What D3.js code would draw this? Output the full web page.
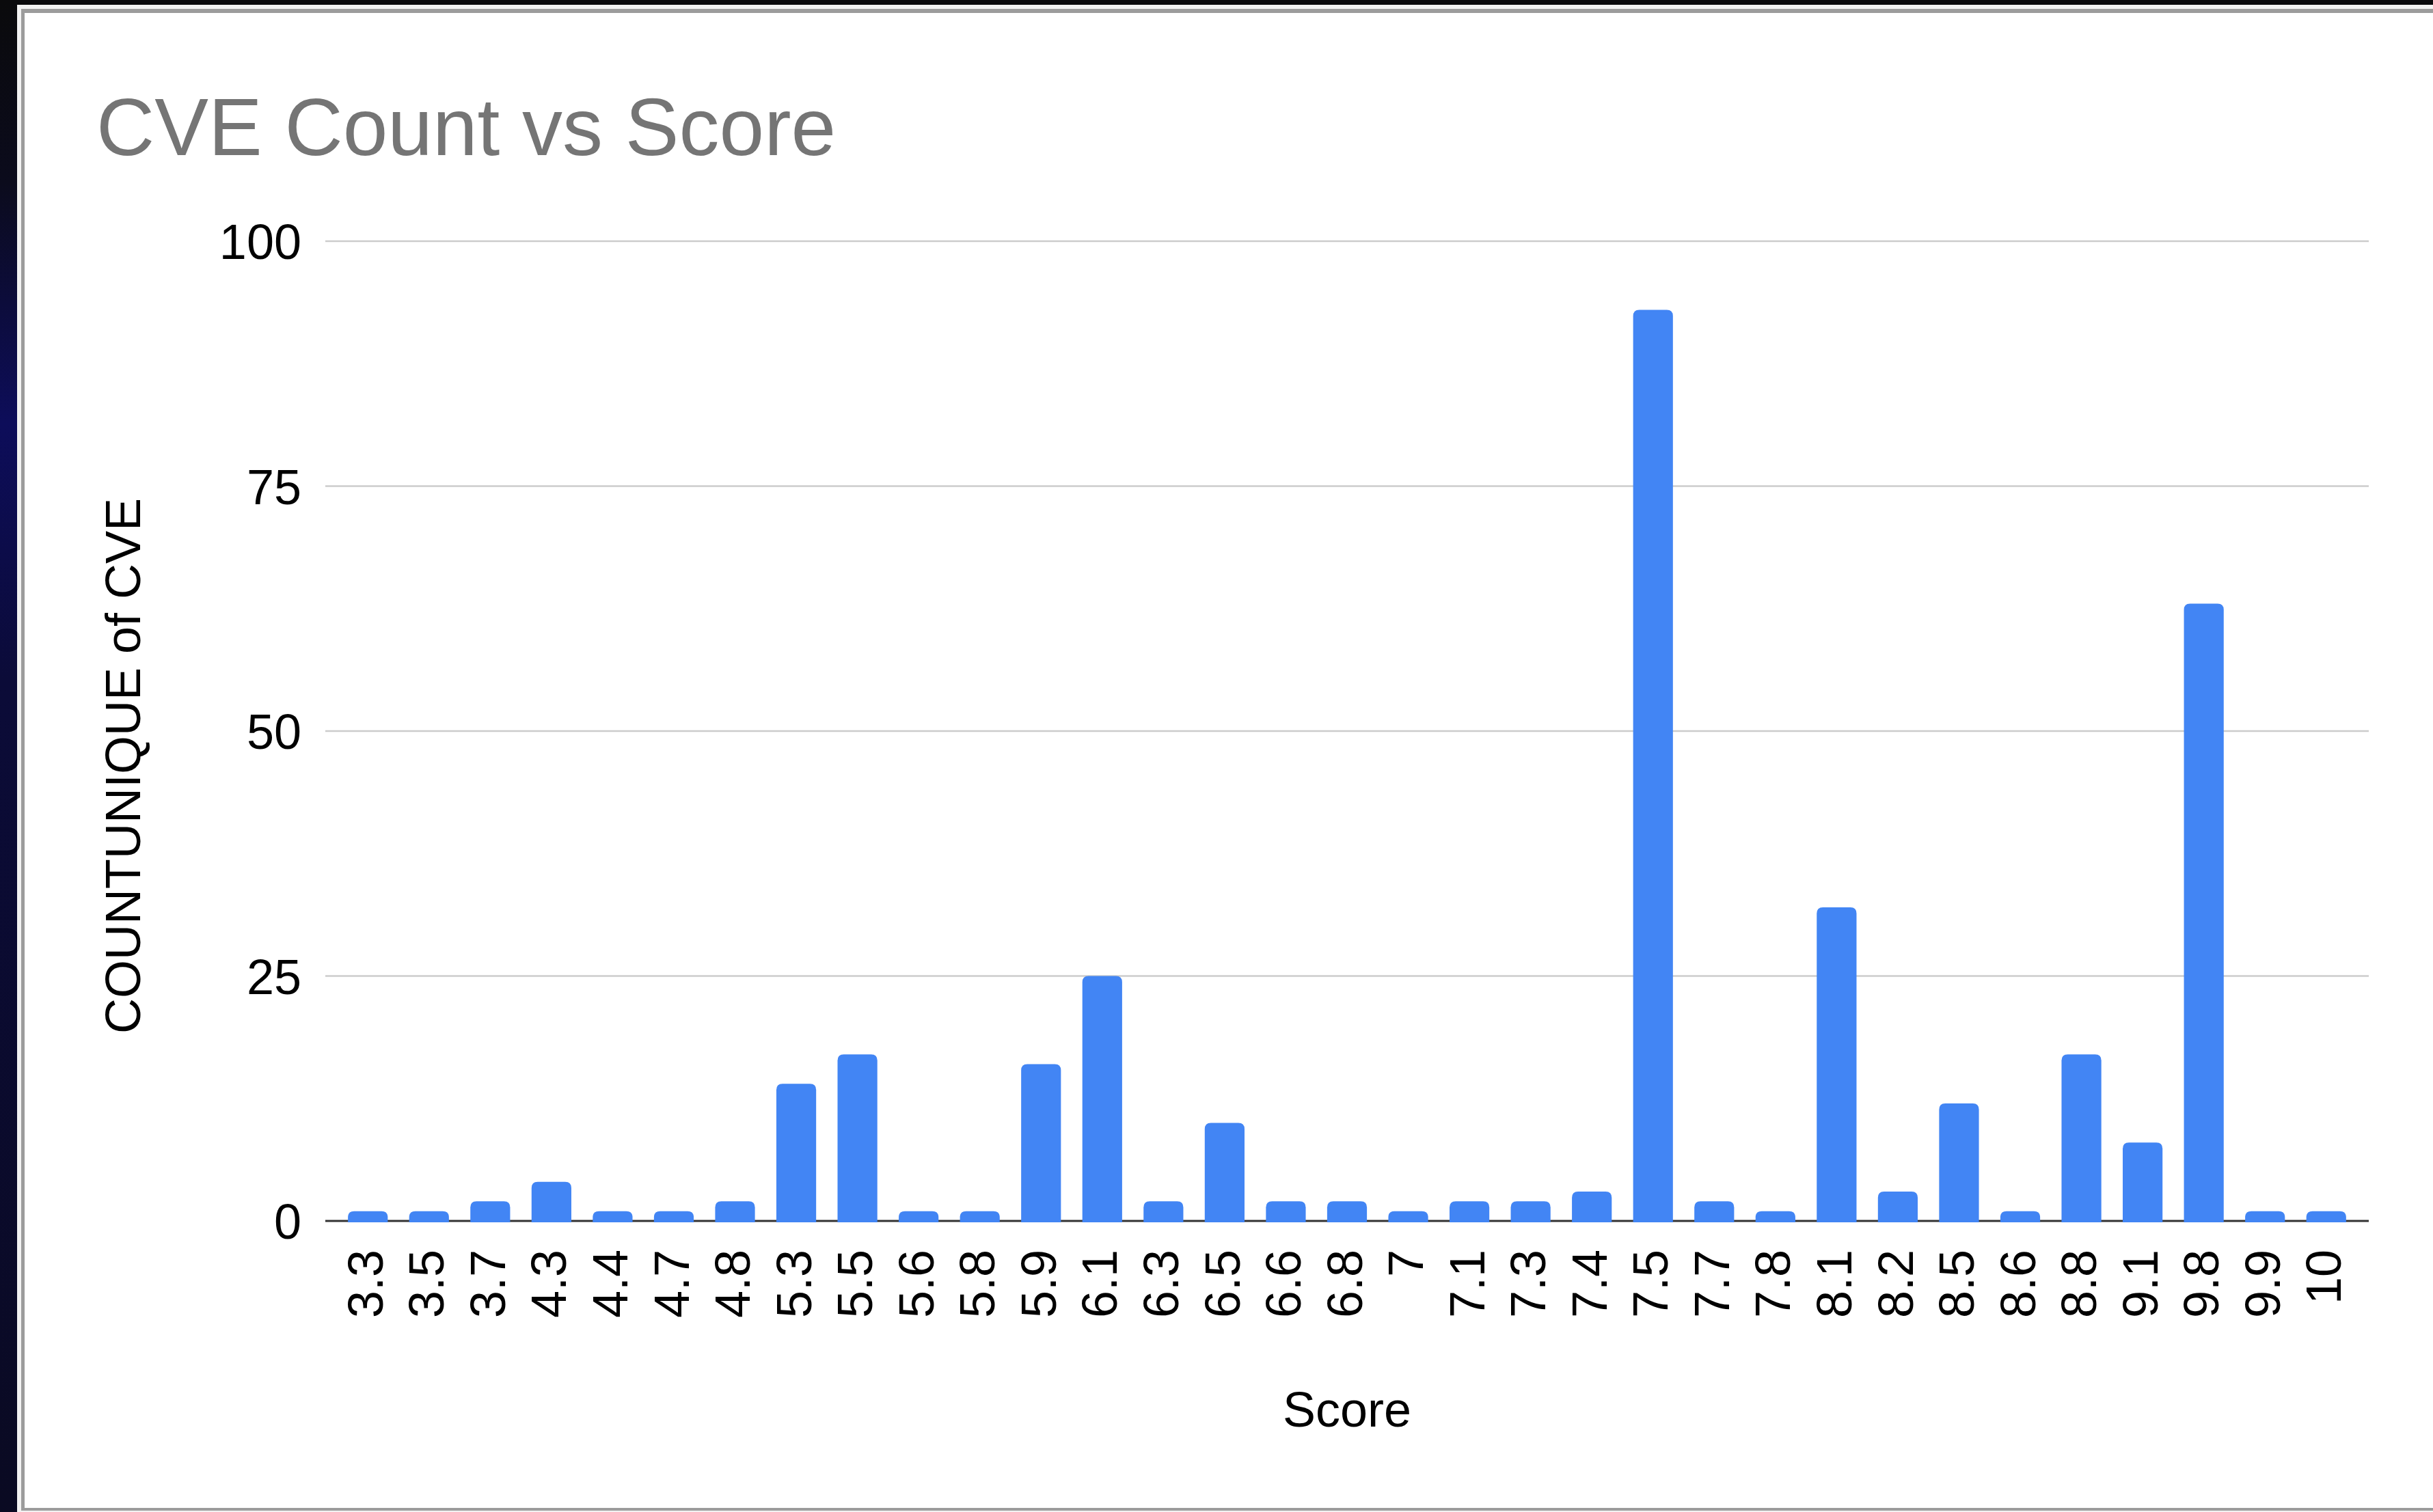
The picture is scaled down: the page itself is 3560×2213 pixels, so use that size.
<!DOCTYPE html>
<html>
<head>
<meta charset="utf-8">
<script src="https://cdn.jsdelivr.net/npm/d3@7"></script>
<style>
  body { margin: 0; background: #0a0a0c; overflow: hidden; }
  svg { display: block; font-family: "Liberation Sans", Arial, Helvetica, sans-serif; }
</style>
</head>
<body>
<div id="chart"></div>
<script>
// Chart data
const scores = ["3.3", "3.5", "3.7", "4.3", "4.4", "4.7", "4.8", "5.3", "5.5", "5.6", "5.8",
  "5.9", "6.1", "6.3", "6.5", "6.6", "6.8", "7", "7.1", "7.3", "7.4", "7.5",
  "7.7", "7.8", "8.1", "8.2", "8.5", "8.6", "8.8", "9.1", "9.8", "9.9", "10"];
const counts = [1, 1, 2, 4, 1, 1, 2, 14, 17, 1, 1,
  16, 25, 2, 10, 2, 2, 1, 2, 2, 3, 93,
  2, 1, 32, 3, 12, 1, 17, 8, 63, 1, 1];
const yTicks = [0, 25, 50, 75, 100];
const title = "CVE Count vs Score";
const xTitle = "Score";
const yTitle = "COUNTUNIQUE of CVE";

const width = 3560;
const height = 2213;
const plot = { left: 476, right: 3466, top: 353, bottom: 1787 };

const svg = d3.select("#chart").append("svg").attr("width", width).attr("height", height);

// dark desktop strip on the left, then the card
const grad = svg.append("defs").append("linearGradient")
  .attr("id", "wall").attr("x1", 0).attr("y1", 0).attr("x2", 0).attr("y2", 1);
grad.append("stop").attr("offset", "0%").attr("stop-color", "#0a0a0c");
grad.append("stop").attr("offset", "12%").attr("stop-color", "#0b0b1c");
grad.append("stop").attr("offset", "28%").attr("stop-color", "#0d0d5a");
grad.append("stop").attr("offset", "45%").attr("stop-color", "#0b0b38");
grad.append("stop").attr("offset", "100%").attr("stop-color", "#0a0a22");
svg.append("rect").attr("x", 0).attr("y", 0).attr("width", 25).attr("height", height).attr("fill", "url(#wall)");

svg.append("rect").attr("x", 25).attr("y", 7).attr("width", width).attr("height", height).attr("fill", "#f2f2f2");
svg.append("rect").attr("x", 31).attr("y", 13).attr("width", width).attr("height", 2198).attr("fill", "#9c9c9c");
svg.append("rect").attr("x", 36).attr("y", 19).attr("width", width).attr("height", 2188).attr("fill", "#ffffff");

const x = d3.scaleBand()
  .domain(scores)
  .range([plot.left, plot.right])
  .paddingInner(0.35)
  .paddingOuter(0.37);

const y = d3.scaleLinear().domain([0, 100]).range([plot.bottom, plot.top]);

// gridlines
svg.append("g")
  .selectAll("line")
  .data(yTicks.filter((d) => d > 0))
  .enter()
  .append("line")
  .attr("x1", plot.left)
  .attr("x2", plot.right)
  .attr("y1", (d) => y(d))
  .attr("y2", (d) => y(d))
  .attr("stroke", "#cccccc")
  .attr("stroke-width", 2.5);

// y axis labels
const yAxis = d3.axisLeft(y).tickValues(yTicks).tickSize(0).tickPadding(35);
const yAxisG = svg.append("g").attr("transform", `translate(${plot.left},0)`).call(yAxis);
yAxisG.select(".domain").remove();
yAxisG.selectAll("text")
  .attr("font-size", 72)
  .attr("font-family", "Liberation Sans, Arial, sans-serif")
  .attr("fill", "#000")
  .attr("dy", "0.36em");

// baseline
svg.append("line")
  .attr("x1", plot.left)
  .attr("x2", plot.right)
  .attr("y1", y(0))
  .attr("y2", y(0))
  .attr("stroke", "#333333")
  .attr("stroke-width", 3);

// bars with rounded tops
function barPath(bx, by, w, h, r) {
  r = Math.min(r, h, w / 2);
  return `M${bx},${by + h}V${by + r}Q${bx},${by} ${bx + r},${by}H${bx + w - r}Q${bx + w},${by} ${bx + w},${by + r}V${by + h}Z`;
}

svg.append("g")
  .selectAll("path")
  .data(scores)
  .enter()
  .append("path")
  .attr("fill", "#4285f4")
  .attr("d", (d, i) => barPath(x(d), y(counts[i]), x.bandwidth(), y(0) - y(counts[i]) + 2, 9));

// x axis labels (rotated)
const xAxis = d3.axisBottom(x).tickSize(0).tickPadding(0);
const xAxisG = svg.append("g").attr("transform", `translate(0,${plot.bottom})`).call(xAxis);
xAxisG.select(".domain").remove();
xAxisG.selectAll("text")
  .attr("font-size", 72)
  .attr("font-family", "Liberation Sans, Arial, sans-serif")
  .attr("fill", "#000")
  .attr("text-anchor", "end")
  .attr("y", 0)
  .attr("dy", "0.3em")
  .attr("transform", "translate(0,42) rotate(-90)");

// titles
svg.append("text")
  .attr("x", 141)
  .attr("y", 227)
  .attr("font-size", 118)
  .attr("fill", "#757575")
  .text(title);

svg.append("text")
  .attr("x", (plot.left + plot.right) / 2)
  .attr("y", 2088)
  .attr("text-anchor", "middle")
  .attr("font-size", 72)
  .attr("fill", "#000")
  .text(xTitle);

svg.append("text")
  .attr("transform", "translate(205,1121) rotate(-90)")
  .attr("text-anchor", "middle")
  .attr("font-size", 72)
  .attr("fill", "#000")
  .text(yTitle);
</script>
</body>
</html>
